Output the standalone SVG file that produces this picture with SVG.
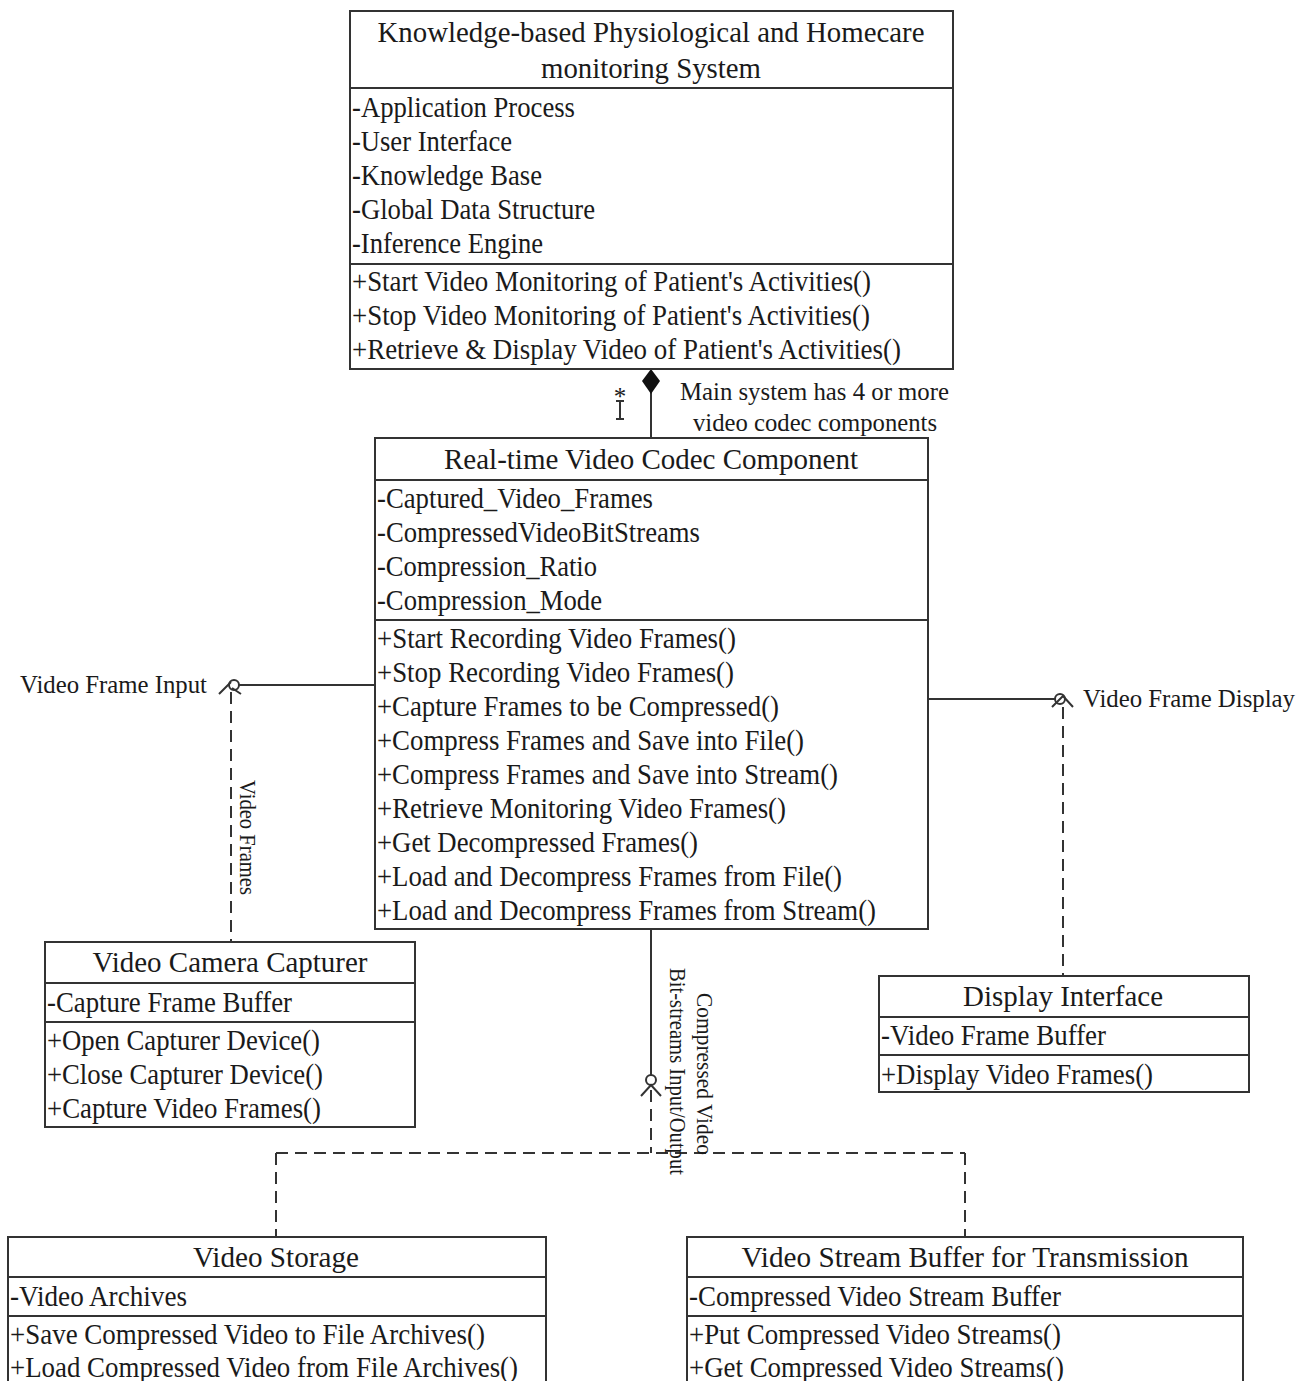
<svg xmlns="http://www.w3.org/2000/svg" width="1306" height="1381" viewBox="0 0 1306 1381">
<style>
text{font-family:"Liberation Serif","Times New Roman",serif;font-size:29px;fill:#1a1a1a}
.t{text-anchor:middle}
.box{fill:#fff;stroke:#333;stroke-width:2}
.div{stroke:#333;stroke-width:2}
.ln{stroke:#333;stroke-width:2;fill:none}
.dash{stroke:#333;stroke-width:2;fill:none;stroke-dasharray:12,7}
.sm{font-size:25px}
.v{font-size:23px}
</style>
<rect width="1306" height="1381" fill="#fff"/>
<g id="connectors">
  <line class="ln" x1="651" y1="392" x2="651" y2="438"/>
  <path d="M651 369 L660 381 L651 394 L642 381 Z" fill="#111"/>
  <text x="620" y="405" class="sm" text-anchor="middle">*</text>
  <path class="ln" stroke-width="1.5" d="M620 401 V419 M616 401 H624 M616 419 H624"/>
  <text x="680" y="400" class="sm" textLength="269" lengthAdjust="spacingAndGlyphs">Main system has 4 or more</text>
  <text x="693" y="431" class="sm" textLength="244" lengthAdjust="spacingAndGlyphs">video codec components</text>
  <!-- left interface -->
  <line class="ln" x1="375" y1="685" x2="239" y2="685"/>
  <circle cx="234" cy="685" r="5" fill="#fff" stroke="#333" stroke-width="2"/>
  <path class="ln" d="M219 694 L231 682 M232 688 L241 694"/>
  <line class="dash" x1="231" y1="692" x2="231" y2="942"/>
  <text x="20" y="693" class="sm" textLength="187" lengthAdjust="spacingAndGlyphs">Video Frame Input</text>
  <text transform="translate(240,780) rotate(90)" class="v" textLength="115" lengthAdjust="spacingAndGlyphs">Video Frames</text>
  <!-- right interface -->
  <line class="ln" x1="928" y1="699" x2="1055" y2="699"/>
  <circle cx="1060" cy="699" r="5" fill="#fff" stroke="#333" stroke-width="2"/>
  <path class="ln" d="M1052 707 L1063 696 L1073 707"/>
  <line class="dash" x1="1063" y1="707" x2="1063" y2="976"/>
  <text x="1083" y="707" class="sm" textLength="212" lengthAdjust="spacingAndGlyphs">Video Frame Display</text>
  <!-- bottom interface -->
  <line class="ln" x1="651" y1="929" x2="651" y2="1075"/>
  <circle cx="651" cy="1080" r="5" fill="#fff" stroke="#333" stroke-width="2"/>
  <path class="ln" d="M641 1096 L651 1085 L661 1096"/>
  <line class="dash" x1="651" y1="1090" x2="651" y2="1153"/>
  <line class="dash" x1="276" y1="1153" x2="965" y2="1153"/>
  <line class="dash" x1="276" y1="1153" x2="276" y2="1237"/>
  <line class="dash" x1="965" y1="1153" x2="965" y2="1237"/>
  <text transform="translate(697,993) rotate(90)" class="v" textLength="162" lengthAdjust="spacingAndGlyphs">Compressed Video</text>
  <text transform="translate(670,968) rotate(90)" class="v" textLength="207" lengthAdjust="spacingAndGlyphs">Bit-streams Input/Output</text>
</g>
<g id="main-system">
  <rect class="box" x="350" y="11" width="603" height="358"/>
  <line class="div" x1="350" y1="88" x2="953" y2="88"/>
  <line class="div" x1="350" y1="264" x2="953" y2="264"/>
  <text x="651" y="42" class="t" textLength="547" lengthAdjust="spacingAndGlyphs">Knowledge-based Physiological and Homecare</text>
  <text x="651" y="78" class="t" textLength="220" lengthAdjust="spacingAndGlyphs">monitoring System</text>
  <text x="352" y="117" textLength="223" lengthAdjust="spacingAndGlyphs">-Application Process</text>
  <text x="352" y="151" textLength="160" lengthAdjust="spacingAndGlyphs">-User Interface</text>
  <text x="352" y="185" textLength="190" lengthAdjust="spacingAndGlyphs">-Knowledge Base</text>
  <text x="352" y="219" textLength="243" lengthAdjust="spacingAndGlyphs">-Global Data Structure</text>
  <text x="352" y="253" textLength="191" lengthAdjust="spacingAndGlyphs">-Inference Engine</text>
  <text x="352" y="291" textLength="519" lengthAdjust="spacingAndGlyphs">+Start Video Monitoring of Patient's Activities()</text>
  <text x="352" y="325" textLength="518" lengthAdjust="spacingAndGlyphs">+Stop Video Monitoring of Patient's Activities()</text>
  <text x="352" y="359" textLength="549" lengthAdjust="spacingAndGlyphs">+Retrieve &amp; Display Video of Patient's Activities()</text>
</g>
<g id="codec">
  <rect class="box" x="375" y="438" width="553" height="491"/>
  <line class="div" x1="375" y1="480" x2="928" y2="480"/>
  <line class="div" x1="375" y1="620" x2="928" y2="620"/>
  <text x="651" y="469" class="t" textLength="414" lengthAdjust="spacingAndGlyphs">Real-time Video Codec Component</text>
  <text x="377" y="508" textLength="276" lengthAdjust="spacingAndGlyphs">-Captured_Video_Frames</text>
  <text x="377" y="542" textLength="323" lengthAdjust="spacingAndGlyphs">-CompressedVideoBitStreams</text>
  <text x="377" y="576" textLength="220" lengthAdjust="spacingAndGlyphs">-Compression_Ratio</text>
  <text x="377" y="610" textLength="225" lengthAdjust="spacingAndGlyphs">-Compression_Mode</text>
  <text x="377" y="648" textLength="359" lengthAdjust="spacingAndGlyphs">+Start Recording Video Frames()</text>
  <text x="377" y="682" textLength="357" lengthAdjust="spacingAndGlyphs">+Stop Recording Video Frames()</text>
  <text x="377" y="716" textLength="402" lengthAdjust="spacingAndGlyphs">+Capture Frames to be Compressed()</text>
  <text x="377" y="750" textLength="427" lengthAdjust="spacingAndGlyphs">+Compress Frames and Save into File()</text>
  <text x="377" y="784" textLength="461" lengthAdjust="spacingAndGlyphs">+Compress Frames and Save into Stream()</text>
  <text x="377" y="818" textLength="409" lengthAdjust="spacingAndGlyphs">+Retrieve Monitoring Video Frames()</text>
  <text x="377" y="852" textLength="321" lengthAdjust="spacingAndGlyphs">+Get Decompressed Frames()</text>
  <text x="377" y="886" textLength="465" lengthAdjust="spacingAndGlyphs">+Load and Decompress Frames from File()</text>
  <text x="377" y="920" textLength="499" lengthAdjust="spacingAndGlyphs">+Load and Decompress Frames from Stream()</text>
</g>
<g id="camera">
  <rect class="box" x="45" y="942" width="370" height="185"/>
  <line class="div" x1="45" y1="983" x2="415" y2="983"/>
  <line class="div" x1="45" y1="1022" x2="415" y2="1022"/>
  <text x="230" y="972" class="t" textLength="275" lengthAdjust="spacingAndGlyphs">Video Camera Capturer</text>
  <text x="47" y="1012" textLength="245" lengthAdjust="spacingAndGlyphs">-Capture Frame Buffer</text>
  <text x="47" y="1050" textLength="273" lengthAdjust="spacingAndGlyphs">+Open Capturer Device()</text>
  <text x="47" y="1084" textLength="276" lengthAdjust="spacingAndGlyphs">+Close Capturer Device()</text>
  <text x="47" y="1118" textLength="274" lengthAdjust="spacingAndGlyphs">+Capture Video Frames()</text>
</g>
<g id="display">
  <rect class="box" x="879" y="976" width="370" height="116"/>
  <line class="div" x1="879" y1="1017" x2="1249" y2="1017"/>
  <line class="div" x1="879" y1="1055" x2="1249" y2="1055"/>
  <text x="1063" y="1006" class="t" textLength="200" lengthAdjust="spacingAndGlyphs">Display Interface</text>
  <text x="881" y="1045" textLength="225" lengthAdjust="spacingAndGlyphs">-Video Frame Buffer</text>
  <text x="881" y="1084" textLength="272" lengthAdjust="spacingAndGlyphs">+Display Video Frames()</text>
</g>
<g id="storage">
  <rect class="box" x="8" y="1237" width="538" height="160"/>
  <line class="div" x1="8" y1="1277" x2="546" y2="1277"/>
  <line class="div" x1="8" y1="1316" x2="546" y2="1316"/>
  <text x="276" y="1267" class="t" textLength="166" lengthAdjust="spacingAndGlyphs">Video Storage</text>
  <text x="10" y="1306" textLength="177" lengthAdjust="spacingAndGlyphs">-Video Archives</text>
  <text x="10" y="1344" textLength="475" lengthAdjust="spacingAndGlyphs">+Save Compressed Video to File Archives()</text>
  <text x="10" y="1377" textLength="508" lengthAdjust="spacingAndGlyphs">+Load Compressed Video from File Archives()</text>
</g>
<g id="stream-buffer">
  <rect class="box" x="687" y="1237" width="556" height="160"/>
  <line class="div" x1="687" y1="1277" x2="1243" y2="1277"/>
  <line class="div" x1="687" y1="1316" x2="1243" y2="1316"/>
  <text x="965" y="1267" class="t" textLength="447" lengthAdjust="spacingAndGlyphs">Video Stream Buffer for Transmission</text>
  <text x="689" y="1306" textLength="372" lengthAdjust="spacingAndGlyphs">-Compressed Video Stream Buffer</text>
  <text x="689" y="1344" textLength="372" lengthAdjust="spacingAndGlyphs">+Put Compressed Video Streams()</text>
  <text x="689" y="1377" textLength="375" lengthAdjust="spacingAndGlyphs">+Get Compressed Video Streams()</text>
</g>
</svg>
